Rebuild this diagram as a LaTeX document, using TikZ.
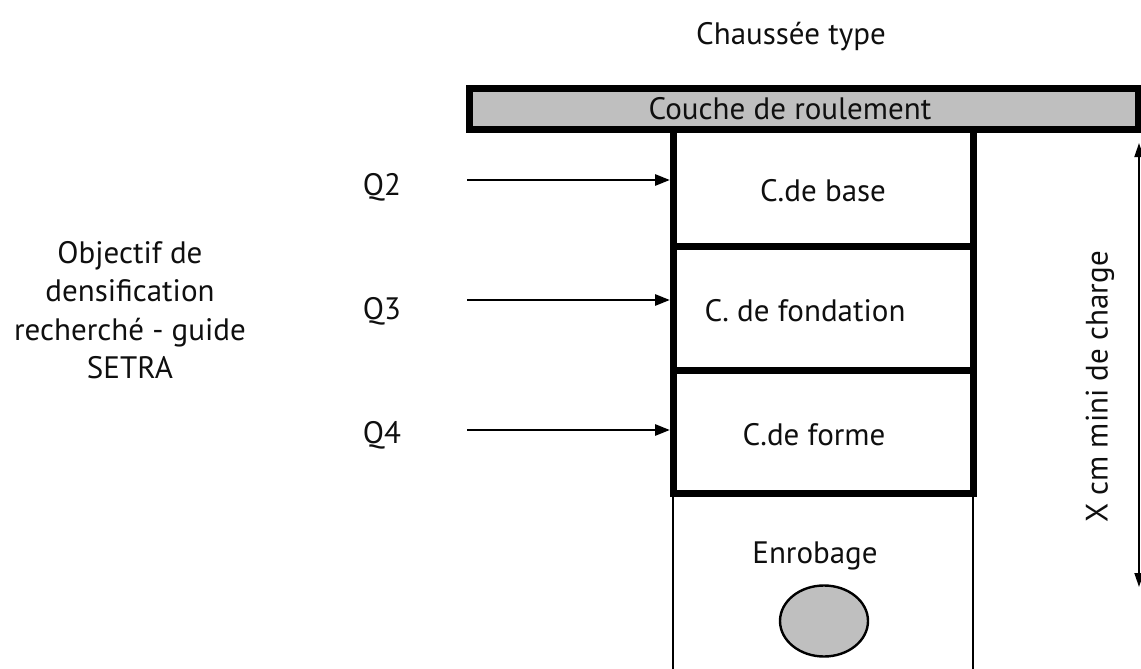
\documentclass[tikz,border=0pt]{standalone}
\usepackage{fontspec}
\setmainfont{PT Sans}
\usetikzlibrary{arrows.meta,shapes.geometric}
\definecolor{layergray}{RGB}{191,191,191}
\definecolor{ink}{RGB}{15,15,15}
\begin{document}
\begin{tikzpicture}[x=1pt,y=-1pt,
  lbl/.style={font=\fontsize{31}{38.5}\selectfont, text=ink, inner sep=0pt},
  thickbox/.style={draw=black, line width=7pt, inner sep=0pt, outer sep=0pt},
  qarrow/.style={draw=black, line width=2.8pt, -{Triangle[length=15pt,width=11pt]}, shorten >=3pt},
  dimarrow/.style={draw=black, line width=1.8pt, {Triangle[length=14pt,width=9pt]}-{Triangle[length=14pt,width=9pt]}}
]
\useasboundingbox (0,0) rectangle (1141,669);
\clip (0,0) rectangle (1141,669);

% title
\node[lbl] (title) at (791,37) {Chaussée type};

% wearing course
\node[thickbox, fill=layergray, minimum width=669pt, minimum height=40pt] (bar) at (803.5,109) {};
\node[lbl] (barlbl) at (790,109) {Couche de roulement};

% layers
\node[thickbox, minimum width=300pt, minimum height=117pt] (base) at (823,187.5) {};
\node[lbl] (baselbl) at (823,191) {C.de base};
\node[thickbox, minimum width=300pt, minimum height=124pt] (fond) at (823,308) {};
\node[lbl] (fondlbl) at (805,311) {C. de fondation};
\node[thickbox, minimum width=300pt, minimum height=123pt] (forme) at (823,431.5) {};
\node[lbl] (formelbl) at (814,435) {C.de forme};

% coating zone (open at bottom)
\node[draw=black, line width=2.6pt, inner sep=0pt, outer sep=0pt, minimum width=300pt, minimum height=220pt] (enrob) at (823,603) {};
\node[lbl] (enroblbl) at (815,556) {Enrobage};
\node[draw=black, line width=2.4pt, fill=layergray, ellipse, minimum width=88pt, minimum height=71pt, inner sep=0pt] (pipe) at (824,621) {};

% Q labels and arrows
\node[lbl] (q2) at (382,187) {Q2};
\node[lbl] (q3) at (382,311) {Q3};
\node[lbl] (q4) at (382,435) {Q4};
\coordinate (a2) at (467,180);
\coordinate (a3) at (467,300);
\coordinate (a4) at (467,430);
\draw[qarrow] (a2) -- (a2 -| base.west);
\draw[qarrow] (a3) -- (a3 -| fond.west);
\draw[qarrow] (a4) -- (a4 -| forme.west);

% left text
\node[lbl, align=center] (obj) at (130,310) {Objectif de\\densification\\recherché - guide\\SETRA};

% dimension
\coordinate (dtop) at (1139,143);
\coordinate (dbot) at (1139,587);
\draw[dimarrow] (dtop) -- (dbot);
\node[lbl, rotate=90] (dimlbl) at (1100,387) {X cm mini de charge};
\end{tikzpicture}
\end{document}
